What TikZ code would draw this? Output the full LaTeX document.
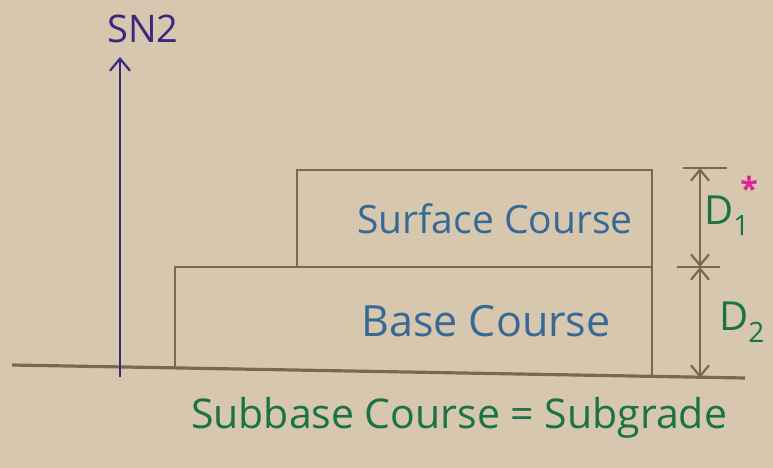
\documentclass[tikz,border=0pt]{standalone}
\usepackage{fontspec}
\setmainfont{Open Sans}
\usetikzlibrary{arrows.meta}
\definecolor{paper}{RGB}{214,199,174}
\definecolor{pencil}{RGB}{120,105,82}
\definecolor{ink}{RGB}{58,40,130}
\definecolor{blueink}{RGB}{55,105,150}
\definecolor{greenink}{RGB}{25,115,70}
\definecolor{pinkink}{RGB}{215,40,150}
\tikzset{
  layer/.style={draw=pencil, line width=2.5pt},
  dimline/.style={draw=pencil, line width=2.5pt},
  barb/.style={-{Straight Barb[length=11pt,width=18pt,line width=2.2pt]}},
  lbl/.style={font=\fontsize{39}{44}\selectfont, text=blueink, inner sep=0pt},
  dlbl/.style={font=\fontsize{40}{44}\selectfont, text=greenink, inner sep=0pt},
}
\begin{document}
\begin{tikzpicture}[x=1pt,y=-1pt]
\fill[paper] (0,0) rectangle (773,468);
\useasboundingbox (0,0) rectangle (773,468);
% ground line
\coordinate (g1) at (12,365);
\coordinate (g2) at (745,378);
\draw[dimline, line width=3.2pt] (g1) -- (g2);
% layers
\coordinate (bl) at (175,368);
\coordinate (btl) at (175,267);
\coordinate (btr) at (652,267);
\coordinate (br) at (652,377);
\coordinate (sbl) at (297,267);
\coordinate (stl) at (297,170);
\coordinate (str) at (652,170);
\draw[layer] (bl) -- (btl) -- (btr);
\draw[layer] (sbl) -- (stl) -- (str) -- (br);
\node[lbl] (surftxt) at (495,219) {Surface Course};
\node[lbl, font=\fontsize{43}{46}\selectfont] (basetxt) at (486,321) {Base Course};
% SN2 arrow
\coordinate (snb) at (120,377);
\node[font=\fontsize{38}{44}\selectfont, text=ink, inner sep=0pt] (sn) at (143,29) {SN2};
\coordinate (snt) at (120,57);
\draw[draw=ink, line width=2.2pt, -{Straight Barb[length=12pt,width=20pt,line width=2.2pt]}] (snb) -- (snt);
% dimension
\coordinate (d0) at (700,168);
\coordinate (d1) at (700,267);
\coordinate (d2) at (700,378);
\coordinate (t0a) at (683,168); \coordinate (t0b) at (727,168);
\coordinate (t1a) at (677,267); \coordinate (t1b) at (720,267);
\draw[dimline] (t0a) -- (t0b);
\draw[dimline] (t1a) -- (t1b);
\draw[dimline, barb] (d1) -- (d0);
\draw[dimline, barb] (d0) -- (d1);
\draw[dimline, barb] (d1) -- (d2);
\draw[dimline, barb] (d2) -- (d1);
\node[dlbl] (D1) at (727,216) {D\textsubscript{1}};
\node[dlbl] (D2) at (742,322) {D\textsubscript{2}};
\node[font=\fontsize{32}{32}\selectfont\bfseries, text=pinkink, inner sep=0pt] (star) at (749,188) {*};
% bottom label
\node[font=\fontsize{41}{46}\selectfont, text=greenink, inner sep=0pt] (sub) at (459,418) {Subbase Course = Subgrade};
\end{tikzpicture}
\end{document}
